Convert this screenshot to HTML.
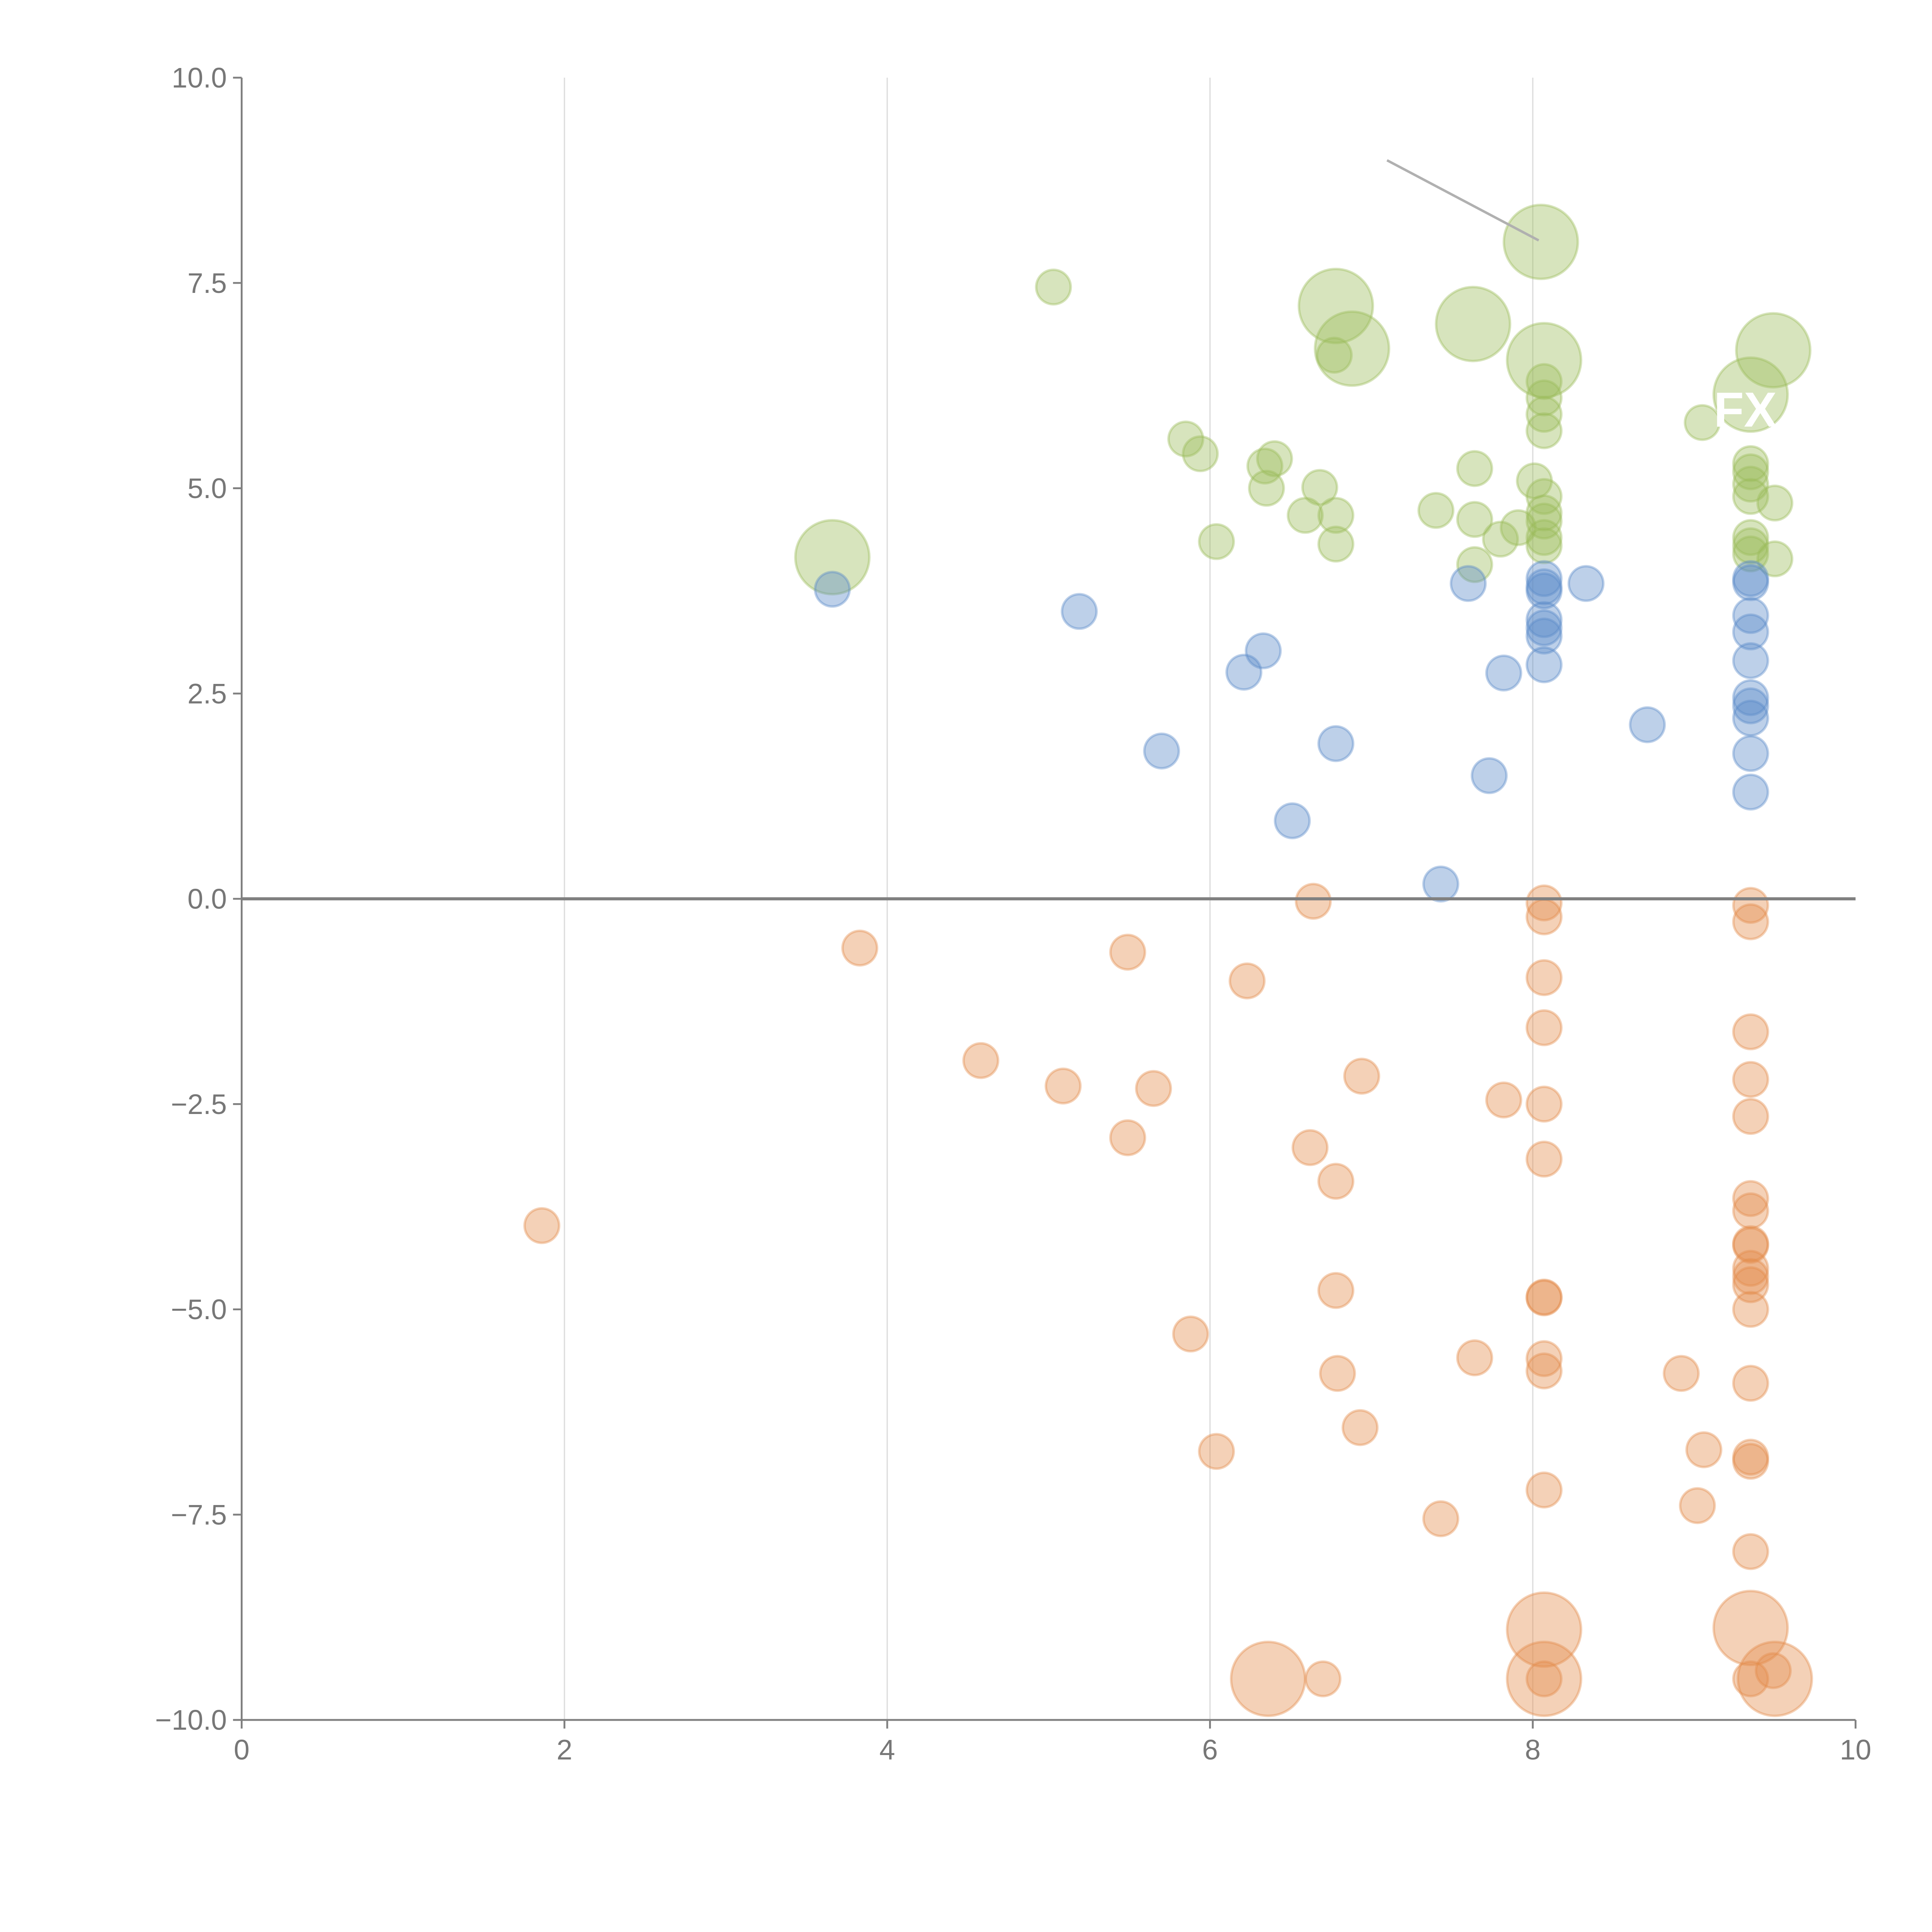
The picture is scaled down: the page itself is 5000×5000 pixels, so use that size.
<!DOCTYPE html>
<html><head><meta charset="utf-8"><style>html,body{margin:0;padding:0;background:#fff}svg{display:block}</style></head>
<body>
<svg id="chart" width="5000" height="5000" viewBox="0 0 1567 1567" xmlns="http://www.w3.org/2000/svg" font-family="Liberation Sans, sans-serif">
<g id="grid"></g>
<g id="marks"></g>
<g id="axes"></g>
</svg>
<script>
const xTicks = [0,2,4,6,8,10];
const yTicks = [10,7.5,5,2.5,0,-2.5,-5,-7.5,-10];
const yTickLabels = ["10.0","7.5","5.0","2.5","0.0","\u22122.5","\u22125.0","\u22127.5","\u221210.0"];
const greenX = [5.03,8.05,6.78,7.63,6.88,6.77,8.07,9.49,9.35,9.05,8.07,8.07,8.07,8.07,5.85,5.94,6.4,6.34,7.64,6.68,6.35,8.01,8.07,8.07,8.07,8.07,8.07,9.35,9.35,9.35,9.35,9.35,9.35,9.35,9.5,9.5,7.4,7.64,6.78,6.59,6.04,6.78,7.8,7.91,7.64,3.66];
const greenY = [7.45,8.0,7.22,7.0,6.7,6.62,6.56,6.68,6.14,5.8,6.3,6.1,5.9,5.7,5.6,5.42,5.36,5.27,5.24,5.01,5.0,5.09,4.9,4.7,4.6,4.4,4.3,5.3,5.2,5.05,4.9,4.4,4.3,4.2,4.82,4.14,4.73,4.62,4.67,4.67,4.35,4.32,4.38,4.52,4.07,4.16];
const greenS = [1,3,3,3,3,1,3,3,3,1,1,1,1,1,1,1,1,1,1,1,1,1,1,1,1,1,1,1,1,1,1,1,1,1,1,1,1,1,1,1,1,1,1,1,1,3];
const blueX = [3.66,5.19,6.33,6.21,5.7,6.78,6.51,7.43,7.6,8.33,7.82,7.73,8.71,8.07,8.07,8.07,8.07,8.07,8.07,8.07,9.35,9.35,9.35,9.35,9.35,9.35,9.35,9.35,9.35,9.35];
const blueY = [3.77,3.5,3.02,2.76,1.8,1.89,0.95,0.18,3.84,3.84,2.75,1.5,2.12,3.9,3.8,3.75,3.4,3.3,3.2,2.85,3.9,3.85,3.45,3.25,2.9,2.45,2.35,2.2,1.77,1.3];
const orangeX = [1.86,3.83,4.58,5.09,5.49,5.49,5.65,5.88,6.04,6.23,6.64,6.62,6.78,6.94,6.78,6.79,6.93,6.7,6.36,7.43,7.64,7.82,8.07,8.07,8.07,8.07,8.07,8.07,8.07,8.07,8.07,8.07,8.07,8.07,8.07,8.07,8.92,9.06,9.02,9.35,9.35,9.35,9.35,9.35,9.35,9.35,9.35,9.35,9.35,9.35,9.35,9.35,9.35,9.35,9.35,9.35,9.35,9.5,9.49,9.35];
const orangeY = [-3.98,-0.6,-1.97,-2.28,-0.65,-2.91,-2.31,-5.3,-6.73,-1.0,-0.03,-3.03,-3.44,-2.16,-4.77,-5.78,-6.44,-9.5,-9.5,-7.55,-5.59,-2.45,-0.05,-0.22,-0.96,-1.57,-2.5,-3.17,-4.85,-4.86,-5.6,-5.75,-7.2,-8.9,-9.5,-9.5,-5.78,-6.71,-7.39,-0.08,-0.28,-1.62,-2.2,-2.65,-3.65,-3.8,-4.2,-4.22,-4.5,-4.6,-4.7,-5.0,-5.9,-6.8,-6.85,-7.95,-8.88,-9.5,-9.4,-9.5];
const orangeS = [1,1,1,1,1,1,1,1,1,1,1,1,1,1,1,1,1,1,3,1,1,1,1,1,1,1,1,1,1,1,1,1,1,3,3,1,1,1,1,1,1,1,1,1,1,1,1,1,1,1,1,1,1,1,1,1,3,3,1,1];

const L=196,R=1505,T=63,B=1395;
const xs = v => L + (v-0)/(10-0)*(R-L);
const ys = v => B - (v+10)/20*(B-T);
const NS="http://www.w3.org/2000/svg";
function mk(tag, parent, attrs){const e=document.createElementNS(NS,tag);for(const k in attrs)e.setAttribute(k,attrs[k]);parent.appendChild(e);return e;}
const grid=document.getElementById('grid'), marks=document.getElementById('marks'), axes=document.getElementById('axes');

xTicks.forEach(t=>{ if(t>0&&t<10){const l=mk('line',grid,{x1:xs(t),x2:xs(t),y1:T,y2:B,stroke:'#dcdcdc','stroke-width':1});

}});

function series(X,Y,S,color,name){
  X.forEach((x,i)=>{const r=(S&&S[i]===3)?30:14;
    const c=mk('circle',marks,{cx:xs(x),cy:ys(Y[i]),r:r,fill:color,'fill-opacity':0.4,stroke:color,'stroke-opacity':0.4,'stroke-width':2});
    
    
  });
}
series(greenX,greenY,greenS,'#9bbb59','green-bubble');
series(blueX,blueY,null,'#5b8ac7','blue-bubble');
series(orangeX,orangeY,orangeS,'#e38d4b','orange-bubble');

const ln=mk('line',marks,{x1:1125,y1:130,x2:1248,y2:195,stroke:'#b0b0b0','stroke-width':2});


const fx=mk('text',marks,{x:1390,y:346,fill:'#fff','font-size':40,'font-weight':'bold'});
fx.textContent='FX';



const ya=mk('line',axes,{x1:L,x2:L,y1:T,y2:B,stroke:'#808080','stroke-width':1.5});


const xa=mk('line',axes,{x1:L,x2:R,y1:B,y2:B,stroke:'#808080','stroke-width':1.5});


const zl=mk('line',axes,{x1:L,x2:R,y1:ys(0),y2:ys(0),stroke:'#808080','stroke-width':2.5});


xTicks.forEach(t=>{
  const tk=mk('line',axes,{x1:xs(t),x2:xs(t),y1:B,y2:B+7,stroke:'#808080','stroke-width':1.5});
  
  
  const tx=mk('text',axes,{x:xs(t),y:B+32,'text-anchor':'middle','font-size':23,fill:'#777'});
  tx.textContent=String(t);
  
  
});
yTicks.forEach((t,i)=>{
  const tk=mk('line',axes,{x1:L-7,x2:L,y1:ys(t),y2:ys(t),stroke:'#808080','stroke-width':1.5});
  
  
  const tx=mk('text',axes,{x:L-12,y:ys(t)+8,'text-anchor':'end','font-size':23,fill:'#777'});
  tx.textContent=yTickLabels[i];
  
  
});
</script>
</body></html>
